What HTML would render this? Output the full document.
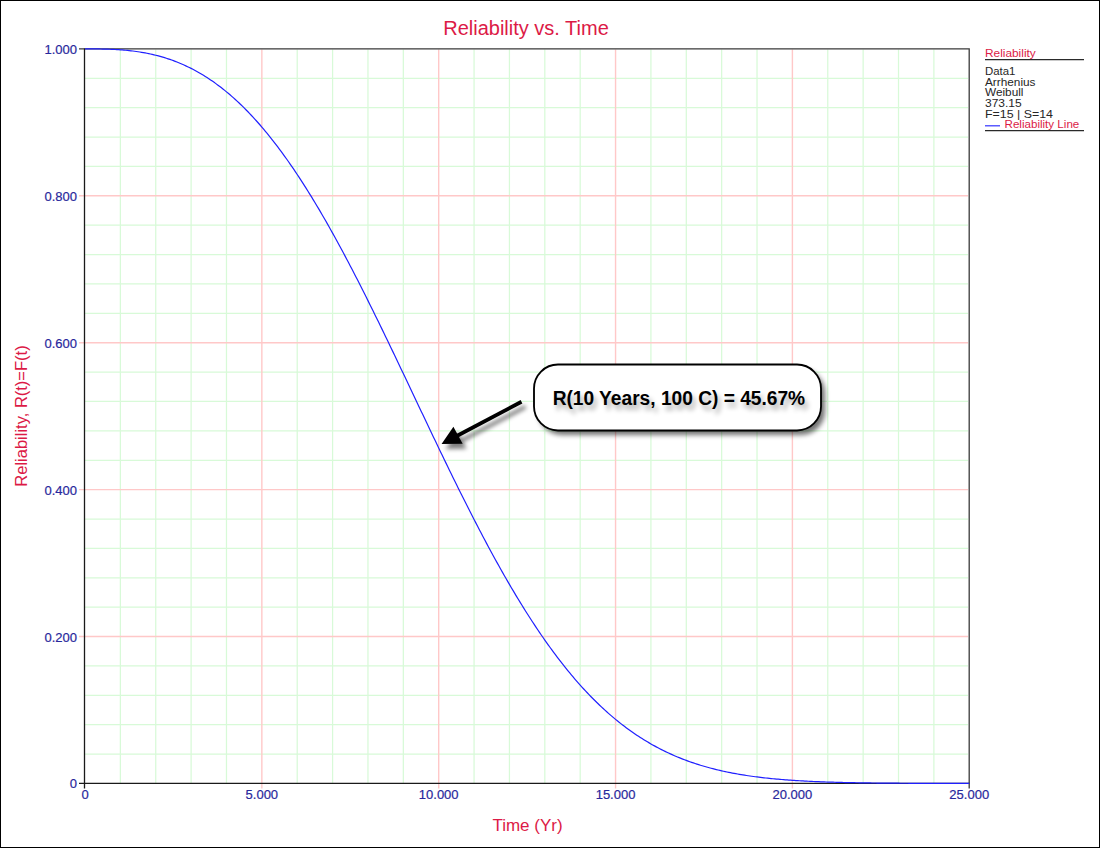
<!DOCTYPE html>
<html><head><meta charset="utf-8"><style>
html,body{margin:0;padding:0;background:#fff;}
svg{display:block;}
text{font-family:"Liberation Sans",sans-serif;}
</style></head><body>
<svg width="1100" height="848" viewBox="0 0 1100 848">
<defs>
<filter id="sh" x="-20%" y="-50%" width="140%" height="200%"><feGaussianBlur stdDeviation="2.2"/></filter>
<filter id="bsh" x="-20%" y="-50%" width="140%" height="200%"><feGaussianBlur stdDeviation="2.6"/></filter>
<filter id="tsh" x="-10%" y="-50%" width="120%" height="200%"><feGaussianBlur stdDeviation="2.6"/></filter>
</defs>
<rect x="0" y="0" width="1100" height="848" fill="#fff"/>
<rect x="0.5" y="0.5" width="1099" height="847" fill="none" stroke="#000" stroke-width="1"/>
<text x="526" y="34.5" text-anchor="middle" font-size="20" fill="#dc1a46">Reliability vs. Time</text>
<path d="M120.37,49.5V783M155.74,49.5V783M191.11,49.5V783M226.48,49.5V783M297.22,49.5V783M332.59,49.5V783M367.96,49.5V783M403.33,49.5V783M474.07,49.5V783M509.44,49.5V783M544.81,49.5V783M580.18,49.5V783M650.92,49.5V783M686.29,49.5V783M721.66,49.5V783M757.03,49.5V783M827.77,49.5V783M863.14,49.5V783M898.51,49.5V783M933.88,49.5V783M85,754.07H968M85,724.69H968M85,695.30H968M85,665.92H968M85,607.16H968M85,577.78H968M85,548.39H968M85,519.01H968M85,460.25H968M85,430.87H968M85,401.48H968M85,372.10H968M85,313.34H968M85,283.96H968M85,254.57H968M85,225.19H968M85,166.43H968M85,137.05H968M85,107.66H968M85,78.28H968" stroke="#d8fad8" stroke-width="1.25" fill="none"/>
<path d="M261.85,49.5V788.5M438.70,49.5V788.5M615.55,49.5V788.5M792.40,49.5V788.5M79,636.54H968M79,489.63H968M79,342.72H968M79,195.81H968" stroke="#ffc8c8" stroke-width="1.4" fill="none"/>
<path d="M79,48.9 L969.2,48.9 L969.2,788.5" fill="none" stroke="#3a3a3a" stroke-width="1.3"/>
<path d="M84.5,48.5 L84.5,788.5 M79,783.3 L969.2,783.3" fill="none" stroke="#1a1a1a" stroke-width="1.3"/>
<path d="M85.00,48.90 L86.77,48.90 L88.54,48.90 L90.31,48.90 L92.07,48.91 L93.84,48.92 L95.61,48.93 L97.38,48.95 L99.15,48.97 L100.92,49.00 L102.69,49.03 L104.45,49.07 L106.22,49.12 L107.99,49.17 L109.76,49.24 L111.53,49.31 L113.30,49.39 L115.06,49.48 L116.83,49.58 L118.60,49.69 L120.37,49.81 L122.14,49.95 L123.91,50.09 L125.68,50.25 L127.44,50.42 L129.21,50.60 L130.98,50.80 L132.75,51.01 L134.52,51.24 L136.29,51.48 L138.06,51.73 L139.82,52.01 L141.59,52.29 L143.36,52.60 L145.13,52.92 L146.90,53.26 L148.67,53.62 L150.43,53.99 L152.20,54.38 L153.97,54.80 L155.74,55.23 L157.51,55.68 L159.28,56.15 L161.05,56.64 L162.81,57.15 L164.58,57.68 L166.35,58.24 L168.12,58.81 L169.89,59.41 L171.66,60.03 L173.43,60.67 L175.19,61.34 L176.96,62.03 L178.73,62.74 L180.50,63.48 L182.27,64.24 L184.04,65.02 L185.80,65.83 L187.57,66.67 L189.34,67.53 L191.11,68.41 L192.88,69.32 L194.65,70.26 L196.42,71.22 L198.18,72.21 L199.95,73.23 L201.72,74.27 L203.49,75.35 L205.26,76.44 L207.03,77.57 L208.79,78.73 L210.56,79.91 L212.33,81.12 L214.10,82.36 L215.87,83.63 L217.64,84.92 L219.41,86.25 L221.17,87.60 L222.94,88.99 L224.71,90.40 L226.48,91.85 L228.25,93.32 L230.02,94.82 L231.79,96.35 L233.55,97.92 L235.32,99.51 L237.09,101.13 L238.86,102.79 L240.63,104.47 L242.40,106.19 L244.16,107.93 L245.93,109.71 L247.70,111.52 L249.47,113.35 L251.24,115.22 L253.01,117.12 L254.78,119.05 L256.54,121.01 L258.31,123.00 L260.08,125.02 L261.85,127.08 L263.62,129.16 L265.39,131.27 L267.16,133.42 L268.92,135.59 L270.69,137.80 L272.46,140.04 L274.23,142.30 L276.00,144.60 L277.77,146.93 L279.53,149.28 L281.30,151.67 L283.07,154.09 L284.84,156.53 L286.61,159.01 L288.38,161.52 L290.15,164.05 L291.91,166.61 L293.68,169.21 L295.45,171.83 L297.22,174.48 L298.99,177.16 L300.76,179.86 L302.53,182.60 L304.29,185.36 L306.06,188.15 L307.83,190.96 L309.60,193.81 L311.37,196.68 L313.14,199.57 L314.90,202.50 L316.67,205.44 L318.44,208.42 L320.21,211.42 L321.98,214.44 L323.75,217.49 L325.52,220.56 L327.28,223.66 L329.05,226.78 L330.82,229.92 L332.59,233.09 L334.36,236.28 L336.13,239.49 L337.90,242.72 L339.66,245.98 L341.43,249.25 L343.20,252.55 L344.97,255.86 L346.74,259.20 L348.51,262.55 L350.27,265.93 L352.04,269.32 L353.81,272.73 L355.58,276.16 L357.35,279.60 L359.12,283.06 L360.89,286.54 L362.65,290.03 L364.42,293.54 L366.19,297.07 L367.96,300.61 L369.73,304.16 L371.50,307.72 L373.27,311.30 L375.03,314.89 L376.80,318.49 L378.57,322.11 L380.34,325.73 L382.11,329.37 L383.88,333.01 L385.64,336.67 L387.41,340.33 L389.18,344.00 L390.95,347.68 L392.72,351.37 L394.49,355.06 L396.26,358.76 L398.02,362.46 L399.79,366.17 L401.56,369.89 L403.33,373.61 L405.10,377.33 L406.87,381.05 L408.64,384.78 L410.40,388.51 L412.17,392.24 L413.94,395.97 L415.71,399.70 L417.48,403.43 L419.25,407.16 L421.01,410.89 L422.78,414.61 L424.55,418.34 L426.32,422.06 L428.09,425.77 L429.86,429.49 L431.63,433.19 L433.39,436.90 L435.16,440.59 L436.93,444.29 L438.70,447.97 L440.47,451.65 L442.24,455.32 L444.01,458.98 L445.77,462.63 L447.54,466.27 L449.31,469.91 L451.08,473.53 L452.85,477.14 L454.62,480.74 L456.38,484.33 L458.15,487.91 L459.92,491.47 L461.69,495.02 L463.46,498.56 L465.23,502.08 L467.00,505.59 L468.76,509.09 L470.53,512.56 L472.30,516.03 L474.07,519.47 L475.84,522.90 L477.61,526.32 L479.38,529.71 L481.14,533.09 L482.91,536.45 L484.68,539.79 L486.45,543.11 L488.22,546.41 L489.99,549.70 L491.75,552.96 L493.52,556.20 L495.29,559.42 L497.06,562.62 L498.83,565.80 L500.60,568.96 L502.37,572.09 L504.13,575.21 L505.90,578.30 L507.67,581.36 L509.44,584.41 L511.21,587.43 L512.98,590.42 L514.75,593.40 L516.51,596.34 L518.28,599.27 L520.05,602.17 L521.82,605.04 L523.59,607.89 L525.36,610.72 L527.12,613.52 L528.89,616.29 L530.66,619.04 L532.43,621.76 L534.20,624.45 L535.97,627.12 L537.74,629.76 L539.50,632.38 L541.27,634.97 L543.04,637.53 L544.81,640.07 L546.58,642.58 L548.35,645.06 L550.12,647.52 L551.88,649.94 L553.65,652.35 L555.42,654.72 L557.19,657.06 L558.96,659.38 L560.73,661.68 L562.49,663.94 L564.26,666.18 L566.03,668.39 L567.80,670.57 L569.57,672.72 L571.34,674.85 L573.11,676.95 L574.87,679.02 L576.64,681.07 L578.41,683.09 L580.18,685.08 L581.95,687.04 L583.72,688.98 L585.49,690.89 L587.25,692.77 L589.02,694.63 L590.79,696.46 L592.56,698.26 L594.33,700.04 L596.10,701.79 L597.87,703.52 L599.63,705.22 L601.40,706.89 L603.17,708.54 L604.94,710.16 L606.71,711.75 L608.48,713.33 L610.24,714.87 L612.01,716.39 L613.78,717.89 L615.55,719.36 L617.32,720.81 L619.09,722.23 L620.86,723.63 L622.62,725.00 L624.39,726.35 L626.16,727.68 L627.93,728.98 L629.70,730.26 L631.47,731.52 L633.24,732.76 L635.00,733.97 L636.77,735.16 L638.54,736.33 L640.31,737.48 L642.08,738.60 L643.85,739.71 L645.61,740.79 L647.38,741.85 L649.15,742.89 L650.92,743.91 L652.69,744.91 L654.46,745.89 L656.23,746.86 L657.99,747.80 L659.76,748.72 L661.53,749.62 L663.30,750.51 L665.07,751.38 L666.84,752.22 L668.60,753.05 L670.37,753.87 L672.14,754.66 L673.91,755.44 L675.68,756.20 L677.45,756.94 L679.22,757.67 L680.98,758.38 L682.75,759.08 L684.52,759.76 L686.29,760.42 L688.06,761.07 L689.83,761.71 L691.60,762.33 L693.36,762.93 L695.13,763.52 L696.90,764.10 L698.67,764.66 L700.44,765.21 L702.21,765.74 L703.97,766.27 L705.74,766.78 L707.51,767.27 L709.28,767.76 L711.05,768.23 L712.82,768.69 L714.59,769.14 L716.35,769.58 L718.12,770.01 L719.89,770.42 L721.66,770.83 L723.43,771.22 L725.20,771.60 L726.97,771.98 L728.73,772.34 L730.50,772.69 L732.27,773.04 L734.04,773.37 L735.81,773.70 L737.58,774.01 L739.34,774.32 L741.11,774.62 L742.88,774.91 L744.65,775.19 L746.42,775.47 L748.19,775.73 L749.96,775.99 L751.72,776.24 L753.49,776.49 L755.26,776.72 L757.03,776.95 L758.80,777.18 L760.57,777.39 L762.34,777.60 L764.10,777.80 L765.87,778.00 L767.64,778.19 L769.41,778.38 L771.18,778.56 L772.95,778.73 L774.71,778.90 L776.48,779.06 L778.25,779.22 L780.02,779.38 L781.79,779.52 L783.56,779.67 L785.33,779.81 L787.09,779.94 L788.86,780.07 L790.63,780.20 L792.40,780.32 L794.17,780.44 L795.94,780.55 L797.71,780.66 L799.47,780.77 L801.24,780.87 L803.01,780.97 L804.78,781.06 L806.55,781.16 L808.32,781.25 L810.08,781.33 L811.85,781.41 L813.62,781.50 L815.39,781.57 L817.16,781.65 L818.93,781.72 L820.70,781.79 L822.46,781.86 L824.23,781.92 L826.00,781.98 L827.77,782.04 L829.54,782.10 L831.31,782.15 L833.08,782.21 L834.84,782.26 L836.61,782.31 L838.38,782.36 L840.15,782.40 L841.92,782.45 L843.69,782.49 L845.45,782.53 L847.22,782.57 L848.99,782.61 L850.76,782.64 L852.53,782.68 L854.30,782.71 L856.07,782.74 L857.83,782.77 L859.60,782.80 L861.37,782.83 L863.14,782.86 L864.91,782.89 L866.68,782.91 L868.45,782.94 L870.21,782.96 L871.98,782.98 L873.75,783.00 L875.52,783.02 L877.29,783.04 L879.06,783.06 L880.82,783.08 L882.59,783.10 L884.36,783.11 L886.13,783.13 L887.90,783.14 L889.67,783.16 L891.44,783.17 L893.20,783.18 L894.97,783.20 L896.74,783.21 L898.51,783.22 L900.28,783.23 L902.05,783.24 L903.82,783.25 L905.58,783.26 L907.35,783.27 L909.12,783.28 L910.89,783.29 L912.66,783.30 L914.43,783.30 L916.19,783.31 L917.96,783.32 L919.73,783.32 L921.50,783.33 L923.27,783.34 L925.04,783.34 L926.81,783.35 L928.57,783.35 L930.34,783.36 L932.11,783.36 L933.88,783.37 L935.65,783.37 L937.42,783.38 L939.19,783.38 L940.95,783.38 L942.72,783.39 L944.49,783.39 L946.26,783.39 L948.03,783.40 L949.80,783.40 L951.56,783.40 L953.33,783.40 L955.10,783.41 L956.87,783.41 L958.64,783.41 L960.41,783.41 L962.18,783.42 L963.94,783.42 L965.71,783.42 L967.48,783.42 L969.25,783.42" fill="none" stroke="#2020ff" stroke-width="1.2"/>
<g font-size="13" fill="#28289c" stroke="#28289c" stroke-width="0.2"><text x="77" y="788.45" text-anchor="end">0</text><text x="77" y="641.54" text-anchor="end">0.200</text><text x="77" y="494.63" text-anchor="end">0.400</text><text x="77" y="347.72" text-anchor="end">0.600</text><text x="77" y="200.81" text-anchor="end">0.800</text><text x="77" y="53.90" text-anchor="end">1.000</text><text x="85.00" y="799.3" text-anchor="middle">0</text><text x="261.85" y="799.3" text-anchor="middle">5.000</text><text x="438.70" y="799.3" text-anchor="middle">10.000</text><text x="615.55" y="799.3" text-anchor="middle">15.000</text><text x="792.40" y="799.3" text-anchor="middle">20.000</text><text x="969.25" y="799.3" text-anchor="middle">25.000</text></g>
<text transform="translate(27,416) rotate(-90)" text-anchor="middle" font-size="16.5" fill="#dc1a46">Reliability, R(t)=F(t)</text>
<text x="527.5" y="831" text-anchor="middle" font-size="17" fill="#dc1a46">Time (Yr)</text>
<g font-size="11.4">
<text x="985" y="57.2" fill="#dc1a46" textLength="50.75" lengthAdjust="spacingAndGlyphs">Reliability</text><text x="985" y="74.7" fill="#262626" textLength="30.4" lengthAdjust="spacingAndGlyphs">Data1</text><text x="985" y="85.6" fill="#262626" textLength="50.5" lengthAdjust="spacingAndGlyphs">Arrhenius</text><text x="985" y="96.2" fill="#262626" textLength="38.5" lengthAdjust="spacingAndGlyphs">Weibull</text><text x="985" y="106.7" fill="#262626" textLength="36.7" lengthAdjust="spacingAndGlyphs">373.15</text><text x="985" y="118" fill="#262626" textLength="68" lengthAdjust="spacingAndGlyphs">F=15 | S=14</text><text x="1004.5" y="128.3" fill="#dc1a46" textLength="74.8" lengthAdjust="spacingAndGlyphs">Reliability Line</text>
<line x1="985" y1="59.5" x2="1084" y2="59.5" stroke="#2a2a2a" stroke-width="1.25"/>
<line x1="985" y1="125.8" x2="1000" y2="125.8" stroke="#3a3aff" stroke-width="1.25"/>
<line x1="985" y1="130.5" x2="1084" y2="130.5" stroke="#2a2a2a" stroke-width="1.25"/>
</g>
<g>
<g opacity="0.5" filter="url(#sh)" transform="translate(4,5)">
<line x1="521.5" y1="401.7" x2="452" y2="438.5" stroke="#000" stroke-width="4"/>
<polygon points="441.6,444 453.4,426.8 462.65,443.65" fill="#000"/>
</g>
<line x1="521.5" y1="401.7" x2="452" y2="438.5" stroke="#000" stroke-width="3.8"/>
<polygon points="441.6,444 453.4,426.8 462.65,443.65" fill="#000"/>
<rect x="538" y="369" width="287" height="66" rx="24" ry="24" fill="#000" opacity="0.55" filter="url(#bsh)"/>
<rect x="534" y="364.5" width="287" height="66" rx="24" ry="24" fill="#fff" stroke="#000" stroke-width="1.85"/>
<text x="682" y="409.5" text-anchor="middle" font-size="19.5" font-weight="bold" fill="#000" opacity="0.34" filter="url(#tsh)" textLength="252.5" lengthAdjust="spacingAndGlyphs">R(10 Years, 100 C) = 45.67%</text>
<text x="678.9" y="404.8" text-anchor="middle" font-size="19.5" font-weight="bold" fill="#000" textLength="252.5" lengthAdjust="spacingAndGlyphs">R(10 Years, 100 C) = 45.67%</text>
</g>
</svg>
</body></html>
